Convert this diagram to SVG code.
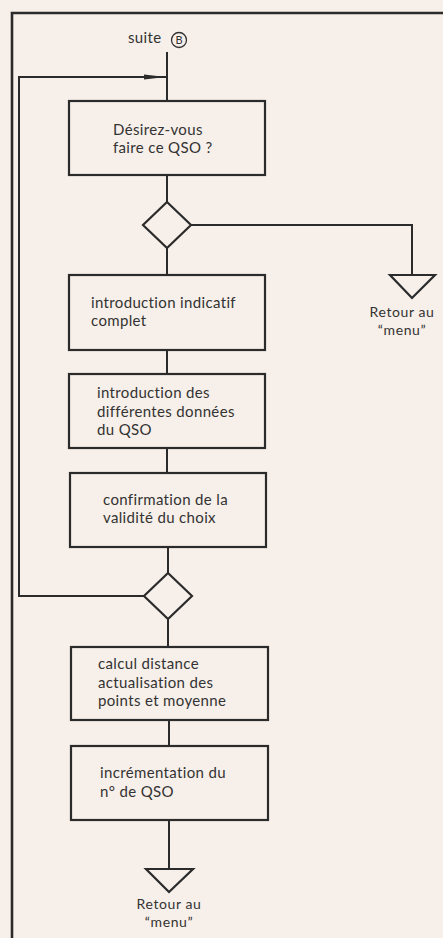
<svg xmlns="http://www.w3.org/2000/svg" width="443" height="938" viewBox="0 0 443 938">
<defs>
<style>
.bg{fill:#f7efe9}
.box{fill:none;stroke:#2b2b2b;stroke-width:2.2}
.ln{fill:none;stroke:#2b2b2b;stroke-width:2}
.frame{fill:none;stroke:#2b2b2b;stroke-width:2.6}
.t{font-family:Lato,"Open Sans","Liberation Sans",sans-serif;font-size:15px;letter-spacing:0.35px;fill:#333333}
.s{font-size:14px;letter-spacing:0.6px}
.c{text-anchor:middle}
</style>
<marker id="arr" viewBox="0 0 22 8" refX="22" refY="4" markerWidth="22" markerHeight="8" markerUnits="userSpaceOnUse" orient="auto">
<path d="M0,1.5 L22,4 L0,6.5 Z" fill="#2b2b2b"/>
</marker>
</defs>
<rect class="bg" x="0" y="0" width="443" height="938"/>
<path class="frame" d="M12,938 V13 H443"/>

<g id="connectors">
<path class="ln" d="M167,52 V101"/>
<path class="ln" d="M167,175 V202"/>
<path class="ln" d="M167,248 V275"/>
<path class="ln" d="M191,225 H412 V275"/>
<path class="ln" d="M167,350 V374"/>
<path class="ln" d="M167,448 V473"/>
<path class="ln" d="M168,547 V573"/>
<path class="ln" d="M144,596 H19 V77 H166" marker-end="url(#arr)"/>
<path class="ln" d="M168,619 V647"/>
<path class="ln" d="M169,720 V746"/>
<path class="ln" d="M169,820 V869"/>
</g>

<g id="start">
<text class="t" x="128" y="43">suite</text>
<circle cx="179" cy="40" r="7.5" fill="none" stroke="#333" stroke-width="1.3"/>
<text class="t" x="179" y="44" text-anchor="middle" style="font-size:11px;letter-spacing:0">B</text>
</g>

<g id="box1">
<rect class="box" x="69" y="101" width="196" height="74"/>
<text class="t" x="113" y="134.5">Désirez-vous</text>
<text class="t" x="113" y="153">faire ce QSO ?</text>
</g>

<g id="decision1">
<polygon class="box" points="167,202 191,225 167,248 143,225"/>
</g>

<g id="exit1">
<polygon class="box" points="390,275 435,275 412,298"/>
<text class="t s c" x="402" y="317">Retour au</text>
<text class="t s c" x="402" y="335">“menu”</text>
</g>

<g id="box2">
<rect class="box" x="69" y="275" width="196" height="75"/>
<text class="t" x="91" y="307.5">introduction indicatif</text>
<text class="t" x="91" y="326">complet</text>
</g>

<g id="box3">
<rect class="box" x="69" y="374" width="196" height="74"/>
<text class="t" x="97" y="398">introduction des</text>
<text class="t" x="97" y="416.5">différentes données</text>
<text class="t" x="97" y="435">du QSO</text>
</g>

<g id="box4">
<rect class="box" x="70" y="473" width="196" height="74"/>
<text class="t" x="103" y="504.5">confirmation de la</text>
<text class="t" x="103" y="523">validité du choix</text>
</g>

<g id="decision2">
<polygon class="box" points="168,573 192,596 168,619 144,596"/>
</g>

<g id="box5">
<rect class="box" x="71" y="647" width="197" height="73"/>
<text class="t" x="98" y="669">calcul distance</text>
<text class="t" x="98" y="687.5">actualisation des</text>
<text class="t" x="98" y="706">points et moyenne</text>
</g>

<g id="box6">
<rect class="box" x="71" y="746" width="197" height="74"/>
<text class="t" x="100" y="778">incrémentation du</text>
<text class="t" x="100" y="797">n° de QSO</text>
</g>

<g id="exit2">
<polygon class="box" points="146,869 193,869 169,892"/>
<text class="t s c" x="169" y="909">Retour au</text>
<text class="t s c" x="169" y="927">“menu”</text>
</g>
</svg>
